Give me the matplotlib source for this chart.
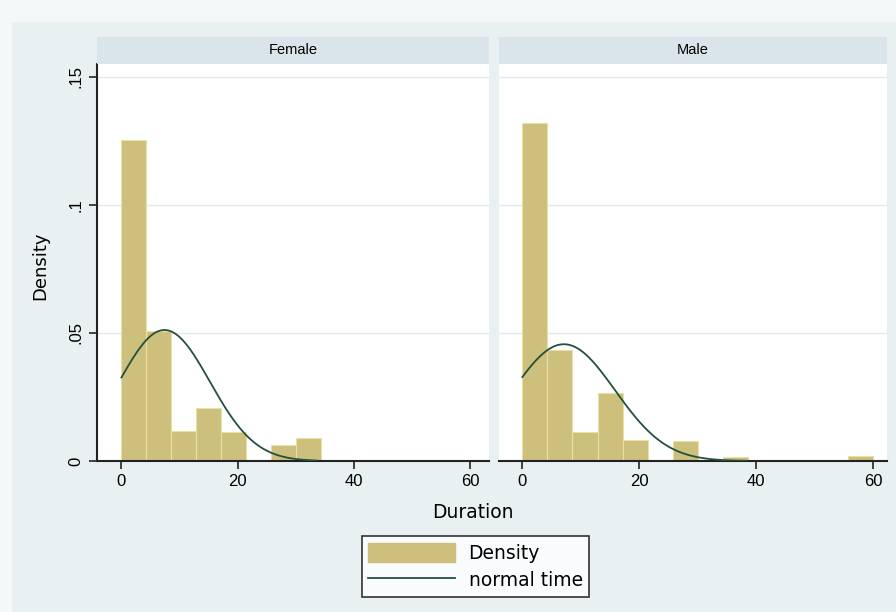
import numpy as np
import matplotlib
matplotlib.use("Agg")
import matplotlib.pyplot as plt
from matplotlib.patches import Patch, Rectangle
from matplotlib.lines import Line2D

plt.rcParams['font.family'] = ['Liberation Sans', 'DejaVu Sans']

# ---- data ----
panels = ["Female", "Male"]
bin_width = 60 / 14
female_density = [0.1254, 0.0508, 0.0117, 0.0206, 0.0114, 0.0, 0.0063, 0.0091]
male_density = [0.1319, 0.0434, 0.0114, 0.0267, 0.0082, 0.0, 0.0079, 0.0,
                0.0016, 0.0, 0.0, 0.0, 0.0, 0.0020]
female_mean, female_sd, female_max = 7.4, 7.8, 33.5
male_mean, male_sd, male_max = 7.1, 8.75, 38.5
x_ticks = [0, 20, 40, 60]
y_ticks = [0, 0.05, 0.10, 0.15]
y_ticklabels = ["0", ".05", ".1", ".15"]

bar_color = "#cdbf7c"
bar_edge = "#e9e0a6"
line_color = "#23503f"
strip_color = "#d9e5ea"
grid_color = "#e2eaed"
bg_color = "#e9f0f2"
wide_font = ["DejaVu Sans"]

W, H = 896, 612
fig = plt.figure(figsize=(W / 100, H / 100), dpi=100)
fig.patch.set_facecolor("#f5f8f9")
fig.add_artist(Rectangle((12 / W, 0), 1 - 12 / W, 1 - 22 / H, transform=fig.transFigure,
                         facecolor=bg_color, edgecolor="none", zorder=-10))

def fx(px):
    return px / W

def fy(py):
    return 1 - py / H

top_px, bot_px = 64, 461
specs = [
    (97, 489, (-4.2, 63.2), female_density, female_mean, female_sd, female_max, True),
    (499, 887, (-4.0, 62.4), male_density, male_mean, male_sd, male_max, False),
]

for name, (l, r, xlim, dens, mu, sd, xmax, first) in zip(panels, specs):
    ax = fig.add_axes([fx(l), fy(bot_px), fx(r - l), (bot_px - top_px) / H])
    ax.set_facecolor("white")
    lefts = np.arange(len(dens)) * bin_width
    ax.bar(lefts, dens, width=bin_width, align="edge", color=bar_color,
           edgecolor=bar_edge, linewidth=0.8, zorder=2)
    xs = np.linspace(0, xmax, 300)
    ys = np.exp(-0.5 * ((xs - mu) / sd) ** 2) / (sd * np.sqrt(2 * np.pi))
    ax.plot(xs, ys, color=line_color, lw=1.3, zorder=3)
    ax.set_xlim(*xlim)
    ax.set_ylim(0, 0.155)
    for yt in y_ticks[1:]:
        ax.axhline(yt, color=grid_color, lw=1.0, zorder=1)
    ax.set_xticks(x_ticks)
    ax.set_xticklabels([str(t) for t in x_ticks], fontsize=12)
    ax.tick_params(axis="x", direction="out", length=6, width=1.2, pad=3, color="#222222")
    for s in ["top", "right"]:
        ax.spines[s].set_visible(False)
    ax.spines["bottom"].set_linewidth(1.5)
    ax.spines["bottom"].set_color("#222222")
    if first:
        ax.set_yticks(y_ticks)
        ax.set_yticklabels(y_ticklabels, fontsize=12, rotation=90, va="center")
        ax.tick_params(axis="y", direction="out", length=6, width=1.2, pad=4, color="#222222")
        ax.spines["left"].set_linewidth(1.5)
        ax.spines["left"].set_color("#222222")
    else:
        ax.spines["left"].set_visible(False)
        ax.set_yticks([])
    # strip
    sax = fig.add_axes([fx(l), fy(top_px), fx(r - l), 27 / H])
    sax.set_facecolor(strip_color)
    sax.set_xticks([])
    sax.set_yticks([])
    for s in sax.spines.values():
        s.set_visible(False)
    sax.text(0.5, 0.5, name, ha="center", va="center", fontsize=10.5, transform=sax.transAxes)

fig.text(fx(40), fy(266), "Density", ha="center", va="center", rotation=90,
         fontsize=13, family=wide_font)
fig.text(fx(473), fy(512), "Duration", ha="center", va="center", fontsize=13.5,
         family=wide_font)

handles = [Patch(facecolor=bar_color, edgecolor=bar_color),
           Line2D([], [], color=line_color, lw=1.3)]
leg = fig.legend(handles, ["Density", "normal time"], loc="center",
                 bbox_to_anchor=(fx(475.5), fy(566.5)),
                 prop={"family": wide_font, "size": 13.5},
                 frameon=True, fancybox=False, handlelength=4.6, handleheight=1.2,
                 labelspacing=0.42, borderpad=0.35, handletextpad=0.75,
                 borderaxespad=0)
leg.get_frame().set_edgecolor("black")
leg.get_frame().set_linewidth(1.2)
leg.get_frame().set_facecolor("white")

fig.savefig("out.png", dpi=100, facecolor=fig.get_facecolor())
